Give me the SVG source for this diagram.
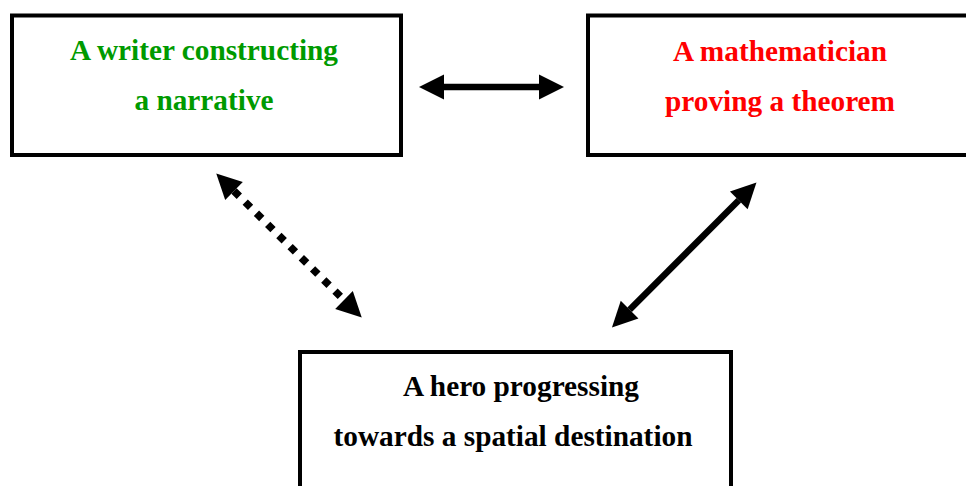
<svg xmlns="http://www.w3.org/2000/svg" width="966" height="486" viewBox="0 0 966 486">
  <style>
    .box { fill: #ffffff; stroke: #000000; stroke-width: 4; }
    .lbl { font-family: "Liberation Serif", "Times New Roman", serif; font-weight: bold; font-size: 29.3px; text-anchor: middle; }
    .green { fill: #009a00; }
    .red { fill: #ff0000; }
    .black { fill: #000000; }
    .conn { stroke: #000000; stroke-width: 6.5; fill: none; marker-start: url(#head); marker-end: url(#head); }
    .dotted { stroke-width: 7.5; stroke-dasharray: 7.5 8.3; }
  </style>
  <defs>
    <marker id="head" markerUnits="userSpaceOnUse" markerWidth="25" markerHeight="25" refX="0" refY="12" orient="auto-start-reverse" viewBox="0 0 24 24" overflow="visible">
      <path d="M0,0 L24,12 L0,24 Z" fill="#000000"/>
    </marker>
  </defs>
  <rect width="966" height="486" fill="#ffffff"/>
  <g id="node-writer">
    <rect class="box" x="12" y="15.5" width="389" height="139.5"/>
    <text class="lbl green" x="204" y="60">A writer constructing</text>
    <text class="lbl green" x="204" y="110">a narrative</text>
  </g>
  <g id="node-mathematician">
    <rect class="box" x="588" y="15.5" width="400" height="139.5"/>
    <text class="lbl red" x="780" y="61">A mathematician</text>
    <text class="lbl red" x="780" y="111">proving a theorem</text>
  </g>
  <g id="node-hero">
    <rect class="box" x="300" y="352" width="431" height="200"/>
    <text class="lbl black" x="521" y="396">A hero progressing</text>
    <text class="lbl black" x="513" y="446">towards a spatial destination</text>
  </g>
  <g id="connectors">
    <line class="conn" x1="444" y1="87" x2="539" y2="87"/>
    <line class="conn dotted" x1="234" y1="191" x2="344" y2="300"/>
    <line class="conn" x1="629.6" y1="309.7" x2="738.8" y2="200.3"/>
  </g>
</svg>
